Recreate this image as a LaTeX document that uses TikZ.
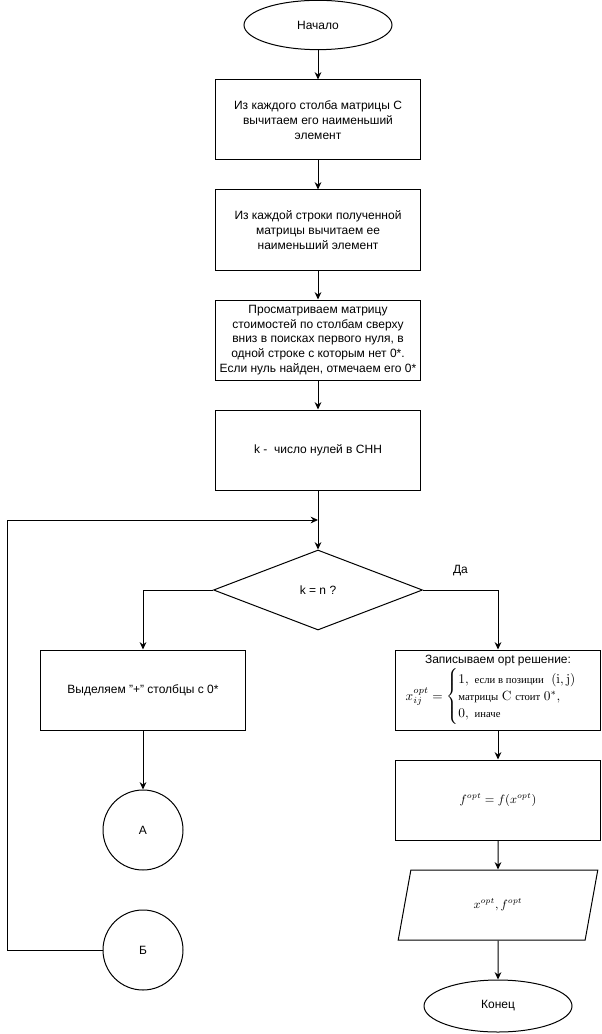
\documentclass[tikz,border=0pt]{standalone}
\usepackage{amsmath,amssymb}
\usepackage[no-math]{fontspec}
\setmainfont{Liberation Sans}
\newfontfamily\serifcyr{Liberation Serif}
\usepackage{tikz}
\usetikzlibrary{shapes.geometric}
\usetikzlibrary{arrows.meta}

\begin{document}
\begin{tikzpicture}[x=0.75pt, y=-0.75pt,
  every node/.style={font=\fontsize{9}{11}\selectfont},
  line/.style={line width=0.75pt, draw=black},
  arr/.style={line, -{Stealth[length=5.5pt, width=5pt]}},
  procbox/.style={draw, line width=0.75pt, rectangle, minimum width=153.75pt, minimum height=60pt, inner sep=0pt, align=center},
  termbox/.style={draw, line width=0.75pt, ellipse, minimum width=111pt, minimum height=37pt, inner sep=0pt},
  decbox/.style={draw, line width=0.75pt, diamond, minimum width=156.75pt, minimum height=60pt, inner sep=0pt},
  linkbox/.style={draw, line width=0.75pt, circle, minimum size=60pt, inner sep=0pt},
  iobox/.style={draw, line width=0.75pt, trapezium, trapezium left angle=74, trapezium right angle=106, trapezium stretches=true, minimum width=150pt, minimum height=52.5pt, inner sep=0pt}]
\useasboundingbox (0,0) rectangle (601,1034);
%\draw [help lines] (0,0) grid (601,1034);
\node [termbox] (start) at (318,25) {Начало};
\node [procbox] (colmin) at (318,120) {Из каждого столба матрицы C\\ вычитаем его наименьший\\ элемент};
\node [procbox] (rowmin) at (318,230) {Из каждой строки полученной\\ матрицы вычитаем ее\\ наименьший элемент};
\node [procbox] (scan) at (318,340) {Просматриваем матрицу\\ стоимостей по столбам сверху\\ вниз в поисках первого нуля, в\\ одной строке с которым нет 0*.\\ Если нуль найден, отмечаем его 0*};
\node [procbox] (count) at (318,450) {k -\ \ число нулей в СНН};
\coordinate (join) at (318,520);
\coordinate (loop) at (7,520);
\node [decbox] (check) at (318,590) {k = n ?};
\node [procbox] (mark) at (143,690) {Выделяем "+" столбцы с 0*};
\node [linkbox] (linkA) at (143,830) {А};
\node [linkbox] (linkB) at (143,950) {Б};
\node [procbox] (write) at (498,690) {Записываем opt решение:\\[1pt]
  {\fontsize{10}{12}\selectfont$x^{opt}_{ij} = \begin{cases}
    1,\ \text{\serifcyr\footnotesize если в позиции}\ \ (\mathrm{i},\mathrm{j})\\[-1.5pt]
    \text{\serifcyr\footnotesize матрицы}\ \mathrm{C}\ \text{\serifcyr\footnotesize стоит}\ 0^{*},\\[-1.5pt]
    0,\ \text{\serifcyr\footnotesize иначе}
  \end{cases}$}};
\node [procbox] (fopt) at (498,800) {$f^{opt} = f(x^{opt})$};
\node [iobox] (output) at (498,905) {$x^{opt}, f^{opt}$};
\node [termbox, minimum height=39pt] (stop) at (498,1006) {Конец};

\draw [arr] (start) -- (colmin);
\draw [arr] (colmin) -- (rowmin);
\draw [arr] (rowmin) -- (scan);
\draw [arr] (scan) -- (count);
\draw [arr] (count) -- (check);
\draw [arr] (linkB) -| (loop) -- (join);
\draw [arr] (check) -| (mark);
\draw [arr] (check) -| node [pos=0.25, above=7pt] {Да} (write);
\draw [arr] (mark) -- (linkA);
\draw [arr] (write) -- (fopt);
\draw [arr] (fopt) -- (output);
\draw [arr] (output) -- (stop);
\end{tikzpicture}
\end{document}
